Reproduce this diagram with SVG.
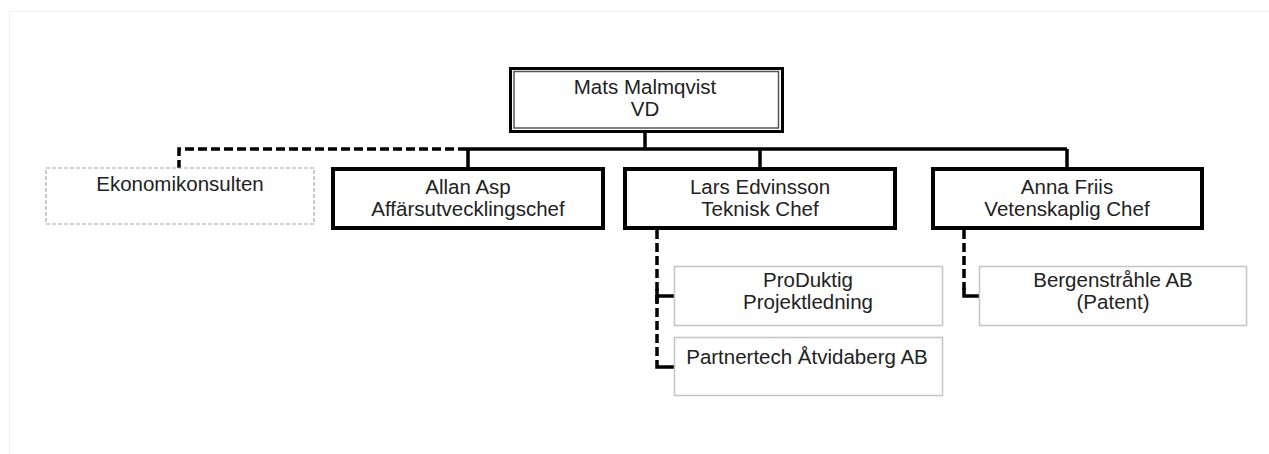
<svg xmlns="http://www.w3.org/2000/svg" width="1269" height="454" viewBox="0 0 1269 454">
<style>
text{font-family:"Liberation Sans",Arial,sans-serif;font-size:20.5px;fill:#222;text-anchor:middle}
.main{fill:#fff;stroke:#000;stroke-width:4}
.sub{fill:#fff;stroke:#c4c4c4;stroke-width:1.5}
.dsub{fill:#fff;stroke:#a8a8a8;stroke-width:1.2;stroke-dasharray:4,2}
.solid{fill:none;stroke:#000;stroke-width:3.5}
.dash{fill:none;stroke:#000;stroke-width:3.5;stroke-dasharray:9,4}
</style>
<rect x="0" y="0" width="1269" height="454" fill="#fff"/>
<rect x="9.5" y="11.5" width="1270" height="460" fill="none" stroke="#f0f0f0" stroke-width="1"/>
<g id="connectors">
<path class="solid" d="M645 132V149M467 149H1067M468 149V167M760 149V167M1067 149V167"/>
<path class="dash" d="M467 149H179V168"/>
<path class="dash" d="M657 230V361"/>
<path class="solid" d="M657 361V367H674M657 289V303M657 296H674"/>
<path class="dash" d="M964 230V290"/>
<path class="solid" d="M964 288V296H979"/>
</g>
<g id="mats">
<rect x="510.5" y="68.5" width="272" height="63" fill="#fff" stroke="#000" stroke-width="3"/>
<rect x="514" y="71.5" width="264.5" height="56.5" fill="none" stroke="#555" stroke-width="1.5"/>
<text x="645" y="94">Mats Malmqvist</text>
<text x="645" y="115.5">VD</text>
</g>
<g id="ekonomi">
<rect class="dsub" x="46" y="168" width="268" height="56"/>
<text x="180" y="191">Ekonomikonsulten</text>
</g>
<g id="allan">
<rect class="main" x="333" y="169" width="270" height="59"/>
<text x="468" y="193.5">Allan Asp</text>
<text x="468" y="215.5">Affärsutvecklingschef</text>
</g>
<g id="lars">
<rect class="main" x="625" y="169" width="270" height="59"/>
<text x="760" y="193.5">Lars Edvinsson</text>
<text x="760" y="215.5">Teknisk Chef</text>
</g>
<g id="anna">
<rect class="main" x="933" y="169" width="269" height="59"/>
<text x="1067" y="193.5">Anna Friis</text>
<text x="1067" y="215.5">Vetenskaplig Chef</text>
</g>
<g id="produktig">
<rect class="sub" x="674.5" y="266.5" width="268" height="59"/>
<text x="808" y="287">ProDuktig</text>
<text x="808" y="308.5">Projektledning</text>
</g>
<g id="partnertech">
<rect class="sub" x="674.5" y="337.5" width="268" height="58"/>
<text x="807" y="364">Partnertech Åtvidaberg AB</text>
</g>
<g id="bergen">
<rect class="sub" x="979.5" y="266.5" width="267" height="59"/>
<text x="1113" y="287">Bergenstråhle AB</text>
<text x="1113" y="309">(Patent)</text>
</g>
</svg>
